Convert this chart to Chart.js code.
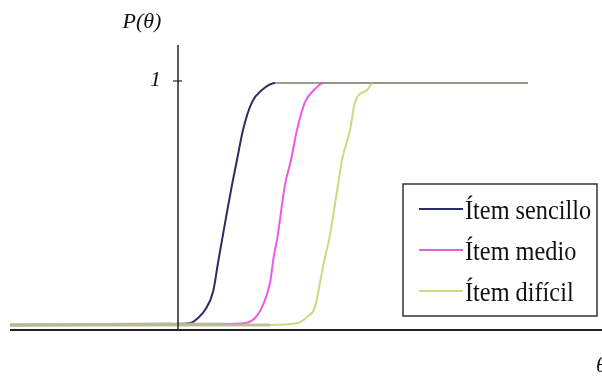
<!DOCTYPE html>
<html>
<head>
<meta charset="utf-8">
<script src="https://cdn.jsdelivr.net/npm/chart.js@4.4.0/dist/chart.umd.min.js"></script>
<style>
  body { margin: 0; background: #fff; }
  canvas { display: block; }
</style>
</head>
<body>
<canvas id="iccChart" width="602" height="376"></canvas>
<script>
// item characteristic curves
const itemLabels = ["Ítem sencillo", "Ítem medio", "Ítem difícil"];

const easyTheta = [-4.2, -0.125, 0.3, 0.5, 0.675, 0.875, 1.0, 1.1, 1.225, 1.35, 1.475, 1.625, 1.85, 2.1, 2.425, 8.75];
const easyP     = [0, 0.004, 0.008, 0.029, 0.062, 0.136, 0.256, 0.351, 0.467, 0.579, 0.682, 0.806, 0.921, 0.971, 1.0, 1.0];

const mediumTheta = [-4.2, 1.175, 1.675, 1.925, 2.125, 2.3, 2.4, 2.475, 2.675, 2.825, 2.975, 3.175, 3.425, 3.625, 8.75];
const mediumP     = [0, 0.004, 0.008, 0.029, 0.083, 0.174, 0.289, 0.351, 0.579, 0.682, 0.806, 0.921, 0.975, 1.0, 1.0];

const hardTheta = [-4.2, 2.3, 3.0, 3.225, 3.425, 3.55, 3.675, 3.775, 4.0, 4.1, 4.3, 4.425, 4.725, 4.875, 8.75];
const hardP     = [0, 0, 0.008, 0.033, 0.074, 0.174, 0.281, 0.351, 0.579, 0.682, 0.806, 0.921, 0.971, 1.0, 1.0];

const yTicks = [1];

function toPoints(xs, ys) {
  return xs.map((x, i) => ({ x: x, y: ys[i] }));
}

const serif = "'Liberation Serif', 'DejaVu Serif', serif";

// the overlapping flat parts look grey in the original
const plateauGrey = "rgba(150, 150, 140, 0.95)";
const baseGrey = "rgba(185, 185, 150, 0.9)";
const flatSegment = {
  borderColor: ctx => {
    if (ctx.p0.parsed.y >= 1 && ctx.p1.parsed.y >= 1) return plateauGrey;
    if (ctx.p0.parsed.y <= 0.004 && ctx.p1.parsed.y <= 0.004 && ctx.p0.parsed.x < -1) return baseGrey;
    return undefined;
  },
  borderWidth: ctx => (ctx.p0.parsed.y <= 0.004 && ctx.p1.parsed.y <= 0.004 && ctx.p0.parsed.x < -1) ? 3 : undefined,
};

// axes drawn through the origin, plus the odd labels
const axesPlugin = {
  id: "axesPlugin",
  afterDraw(chart) {
    const c = chart.ctx;
    const xs = chart.scales.x;
    const ys = chart.scales.y;
    const area = chart.chartArea;
    const x0 = xs.getPixelForValue(0);
    const yb = ys.getPixelForValue(ys.min);
    c.save();
    c.strokeStyle = "#333";
    c.lineWidth = 1.6;
    c.beginPath();
    c.moveTo(x0, area.top);
    c.lineTo(x0, yb);
    c.stroke();
    c.lineWidth = 2.2;
    c.strokeStyle = "#222";
    c.beginPath();
    c.moveTo(area.left, yb);
    c.lineTo(area.right, yb);
    c.stroke();

    c.fillStyle = "#111";
    c.font = "italic 22px " + serif;
    c.textBaseline = "middle";
    yTicks.forEach(t => {
      const py = ys.getPixelForValue(t);
      c.lineWidth = 1.2;
      c.beginPath();
      c.moveTo(x0 - 5, py - 2);
      c.lineTo(x0 + 4, py - 2);
      c.stroke();
      c.textAlign = "right";
      c.fillText(String(t), x0 - 17, py - 3);
    });
    c.textAlign = "center";
    c.fillText("P(θ)", 142, 22);
    c.textAlign = "left";
    c.fillText("θ", 596, 366);
    c.restore();
  }
};

// boxed legend in the lower right
const boxLegend = {
  id: "boxLegend",
  afterDraw(chart) {
    const c = chart.ctx;
    c.save();
    c.fillStyle = "#fff";
    c.fillRect(403, 184, 194, 132);
    c.strokeStyle = "#333";
    c.lineWidth = 1.5;
    c.strokeRect(403, 184, 194, 132);
    c.textAlign = "left";
    c.textBaseline = "middle";
    chart.data.datasets.forEach((ds, i) => {
      const y = 210 + i * 41;
      c.strokeStyle = ds.borderColor;
      c.lineWidth = 1.8;
      c.beginPath();
      c.moveTo(419, y - 1);
      c.lineTo(463, y - 1);
      c.stroke();
      c.save();
      c.translate(465, y + 2);
      c.scale(0.9, 1);
      c.font = "27px " + serif;
      c.fillStyle = "#111";
      c.fillText(ds.label, 0, 0);
      c.restore();
    });
    c.restore();
  }
};

new Chart(document.getElementById("iccChart"), {
  type: "line",
  data: {
    datasets: [
      {
        label: itemLabels[0],
        data: toPoints(easyTheta, easyP),
        borderColor: "#2a2d62",
        segment: flatSegment,
        order: 3,
      },
      {
        label: itemLabels[1],
        data: toPoints(mediumTheta, mediumP),
        borderColor: "rgba(232, 60, 224, 0.85)",
        segment: flatSegment,
        order: 2,
      },
      {
        label: itemLabels[2],
        data: toPoints(hardTheta, hardP),
        borderColor: "rgba(175, 205, 70, 0.7)",
        segment: flatSegment,
        order: 1,
      },
    ],
  },
  options: {
    responsive: false,
    animation: false,
    layout: { padding: { left: 10, right: 0, top: 45, bottom: 46 } },
    elements: {
      point: { radius: 0 },
      line: { borderWidth: 2, cubicInterpolationMode: "monotone", fill: false },
    },
    scales: {
      x: { type: "linear", min: -4.2, max: 10.6, display: false },
      y: { min: -0.0207, max: 1.157, display: false },
    },
    plugins: {
      legend: { display: false },
      tooltip: { enabled: false },
    },
  },
  plugins: [axesPlugin, boxLegend],
});
</script>
</body>
</html>
